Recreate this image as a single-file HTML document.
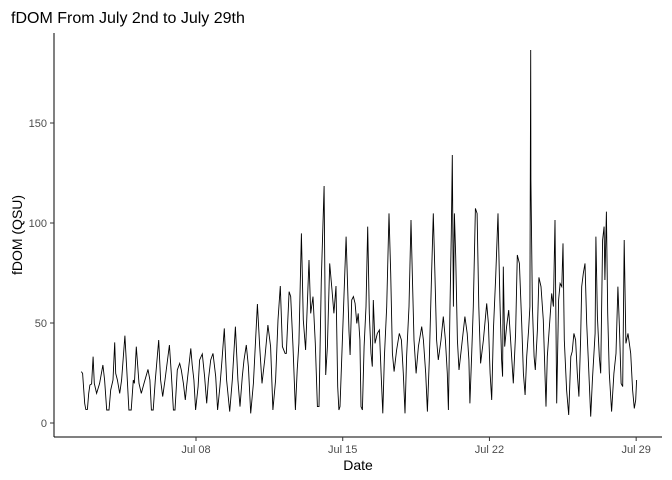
<!DOCTYPE html>
<html><head><meta charset="utf-8"><style>
body{margin:0;background:#fff;}
svg{display:block;font-family:"Liberation Sans",sans-serif;}
</style></head><body>
<svg id="chart" width="672" height="480" viewBox="0 0 672 480">
<rect width="672" height="480" fill="#fff"/>
<text x="11" y="23" font-size="16" fill="#000">fDOM From July 2nd to July 29th</text>
<line x1="54" y1="33" x2="54" y2="437" stroke="#000" stroke-width="1"/>
<line x1="54" y1="437" x2="662" y2="437" stroke="#000" stroke-width="1"/>
<g id="yt"></g><g id="xt"></g>
<path id="line" fill="none" stroke="#000" stroke-width="0.9"/>
<text x="358" y="470" font-size="14" text-anchor="middle">Date</text>
<text transform="translate(22,235) rotate(-90)" font-size="14" text-anchor="middle">fDOM (QSU)</text>
</svg>
<script>
const days=[2.53,2.59,2.69,2.74,2.82,2.88,2.94,3.02,3.09,3.15,3.26,3.40,3.56,3.64,3.74,3.85,3.93,4.04,4.12,4.17,4.25,4.36,4.45,4.61,4.69,4.80,4.91,5.01,5.06,5.15,5.28,5.39,5.52,5.71,5.80,5.87,5.96,6.06,6.22,6.31,6.41,6.52,6.73,6.82,6.92,7.00,7.11,7.22,7.30,7.40,7.49,7.55,7.75,7.82,7.90,7.98,8.10,8.17,8.30,8.41,8.51,8.59,8.70,8.81,8.94,9.03,9.14,9.24,9.35,9.46,9.61,9.73,9.88,10.00,10.10,10.21,10.29,10.40,10.50,10.61,10.74,10.93,11.04,11.15,11.28,11.43,11.56,11.67,11.80,11.91,12.02,12.12,12.25,12.31,12.44,12.52,12.63,12.74,12.83,12.91,13.03,13.12,13.23,13.39,13.47,13.58,13.69,13.79,13.87,13.98,14.11,14.19,14.27,14.38,14.49,14.58,14.68,14.76,14.82,14.87,15.16,15.30,15.35,15.43,15.51,15.59,15.67,15.74,15.82,15.87,15.94,16.02,16.11,16.19,16.27,16.35,16.41,16.46,16.54,16.65,16.75,16.83,16.91,16.99,17.10,17.21,17.29,17.37,17.45,17.57,17.70,17.80,17.89,17.97,18.05,18.16,18.26,18.32,18.40,18.50,18.61,18.77,18.85,18.96,19.04,19.13,19.24,19.32,19.40,19.48,19.56,19.69,19.80,19.90,19.99,20.04,20.12,20.18,20.23,20.28,20.33,20.39,20.47,20.55,20.67,20.83,20.94,21.02,21.07,21.15,21.23,21.33,21.41,21.49,21.58,21.71,21.87,21.95,22.03,22.11,22.19,22.30,22.41,22.50,22.58,22.63,22.66,22.73,22.82,22.92,23.01,23.14,23.25,23.33,23.43,23.54,23.62,23.70,23.78,23.87,23.93,23.97,23.98,24.05,24.13,24.19,24.29,24.36,24.46,24.57,24.70,24.76,24.86,24.97,25.05,25.13,25.21,25.30,25.37,25.45,25.51,25.57,25.68,25.78,25.88,25.95,26.03,26.11,26.19,26.27,26.35,26.40,26.48,26.56,26.64,26.73,26.83,26.91,27.04,27.08,27.15,27.24,27.31,27.40,27.47,27.51,27.58,27.64,27.72,27.83,27.94,28.04,28.13,28.20,28.28,28.36,28.43,28.51,28.61,28.74,28.83,28.91,28.98,29.02];
const fdom=[25.7,24.8,9.8,6.8,6.8,14.8,19,19.5,33.2,19.8,14.8,19.8,29,21.5,6.5,6.5,16.5,21.5,40.3,24.8,21.5,14.8,21.5,43.7,28.2,6.5,6.5,21.5,19.8,38.2,19.8,14.8,19.8,26.8,21.5,6.5,6.5,21.5,41.5,21.5,13.2,21.5,39,24.8,6.5,6.5,26.5,29.8,26.5,19.8,11.5,18.2,37.3,29,21.5,6.5,18.2,31.5,34.5,23.2,9.8,21.5,31.5,34.8,23.2,6.5,18.2,31.5,47.3,21.5,5.7,21.5,48.2,21.5,8.2,23.2,31.5,39,28.2,4.8,19.8,59.5,38.2,19.8,31.5,49,38.2,6.5,21.5,51.5,68.5,38.2,34.8,34.8,65.7,63.2,38.2,6.5,26.5,39.8,94.8,51.5,36.5,81.5,54.8,63.2,39.8,8.2,8.2,71.5,118.5,24,38.2,79.8,66.5,54.8,68.5,18.2,6.5,8.2,93.2,45.7,34,61.5,63.2,59.8,49.8,54.8,41.5,8.2,6.5,38.2,58.2,98.2,54.8,34.8,28.2,61.5,39.8,44.8,46.5,24.8,4.8,33.2,58.2,104.8,74.8,34.8,25.7,36.5,44.8,41.5,24.8,4.8,33.2,58.2,101.5,74.8,41.5,24.8,38.2,48.2,41.5,24.8,5.7,31.5,74.8,104.8,74.8,41.5,31.5,41.5,53.2,41.5,24.8,6.5,58.2,94.8,134,58.2,104.8,83.2,41.5,26.5,38.2,53.2,44.8,31.5,9.8,33.2,58.2,107.3,104.8,58.2,29.8,41.5,59.8,49.8,24.8,11.5,46.5,73.2,104.8,61.5,31.5,23.2,78.2,38.2,48.2,56.5,41.5,19.8,44.8,84,79.8,49.8,24.8,14,33.2,46.5,58.2,186.5,121.5,58.2,33.2,26.5,46.5,72.8,68.2,51.5,8.2,33.2,48.2,64.8,58.2,101.5,9.8,61.5,69.8,68.2,89.8,41.5,16.5,4,33.2,35.7,44.8,41.5,24.8,13.2,41.5,68.2,74.8,79.8,49.8,28.2,3.2,21.5,44.8,93.2,53.2,33.2,24.8,91.5,98.2,71.5,105.7,54.8,24.8,5.7,24.8,34.8,68.2,48.2,19.8,18.2,91.5,39.8,44.8,34.8,16.5,7.3,11.5,21.5];
const yTicks=[0,50,100,150];
const xTickDays=[8,15,22,29];
const xTickLabels=["Jul 08","Jul 15","Jul 22","Jul 29"];
const X=d=>196+(d-8)*20.96, Y=v=>423-2*v;
const NS="http://www.w3.org/2000/svg";
let dstr="";
days.forEach((d,i)=>{dstr+=(i?"L":"M")+X(d).toFixed(1)+","+Y(fdom[i]).toFixed(1);});
document.getElementById("line").setAttribute("d",dstr);
const yt=document.getElementById("yt");
yTicks.forEach(v=>{
 const l=document.createElementNS(NS,"line");
 
 
 l.setAttribute("x1",50);l.setAttribute("x2",54);l.setAttribute("y1",Y(v));l.setAttribute("y2",Y(v));l.setAttribute("stroke","#333");
 yt.appendChild(l);
 const t=document.createElementNS(NS,"text");
 
 
 t.setAttribute("x",47);t.setAttribute("y",Y(v)+4);t.setAttribute("text-anchor","end");t.setAttribute("font-size","11");t.setAttribute("fill","#4d4d4d");
 t.textContent=v;yt.appendChild(t);
});
const xt=document.getElementById("xt");
xTickDays.forEach((d,i)=>{
 const l=document.createElementNS(NS,"line");
 
 
 l.setAttribute("x1",X(d));l.setAttribute("x2",X(d));l.setAttribute("y1",437);l.setAttribute("y2",441);l.setAttribute("stroke","#333");
 xt.appendChild(l);
 const t=document.createElementNS(NS,"text");
 
 
 t.setAttribute("x",X(d));t.setAttribute("y",453);t.setAttribute("text-anchor","middle");t.setAttribute("font-size","11");t.setAttribute("fill","#4d4d4d");
 t.textContent=xTickLabels[i];xt.appendChild(t);
});
</script>
</body></html>
